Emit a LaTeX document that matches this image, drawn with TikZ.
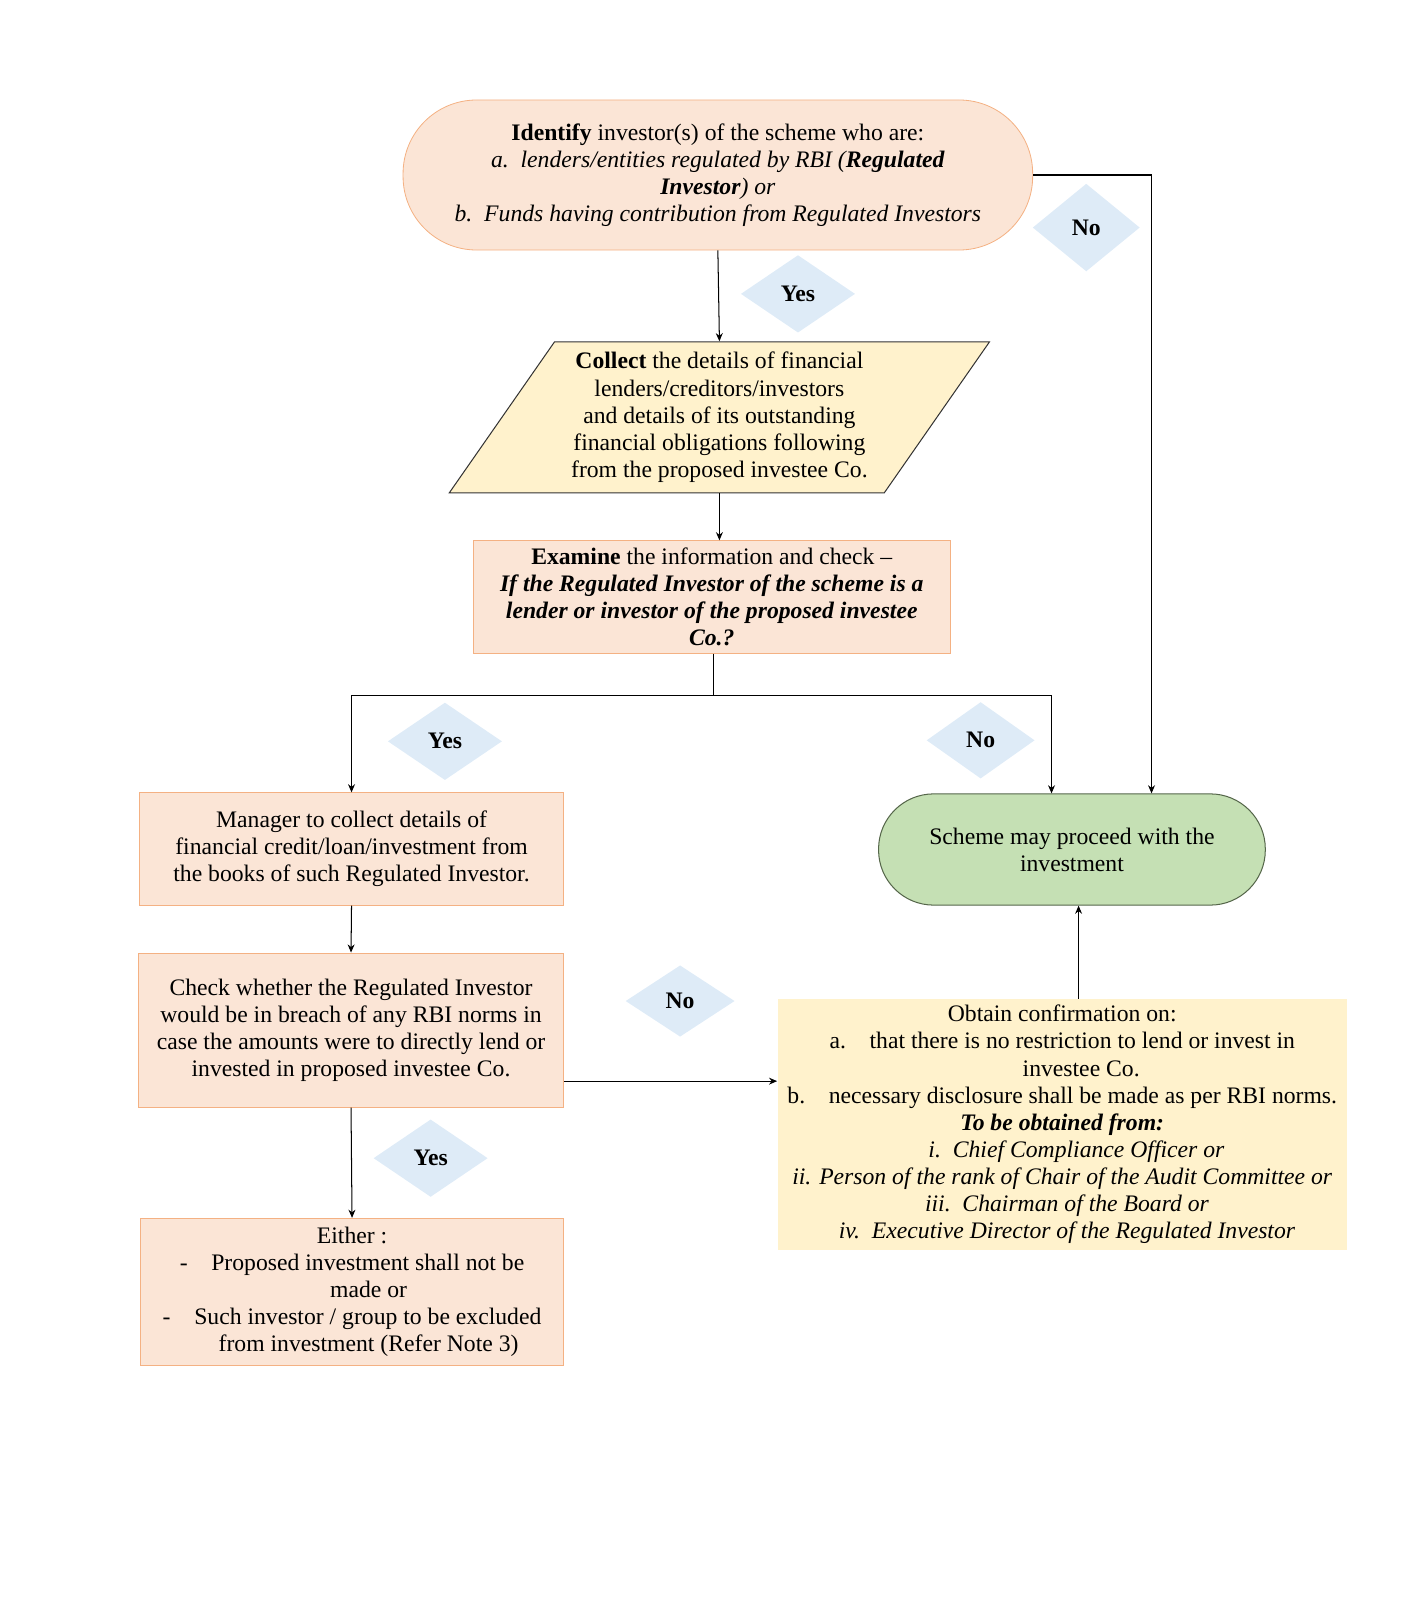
\documentclass[tikz,border=0pt]{standalone}
\usepackage{fontspec}
\setmainfont{Liberation Serif}
\usetikzlibrary{shapes.geometric,arrows.meta}

\definecolor{peach}{HTML}{FBE5D6}
\definecolor{peachline}{HTML}{F4B183}
\definecolor{cream}{HTML}{FFF2CC}
\definecolor{leaf}{HTML}{C5E0B4}
\definecolor{leafline}{HTML}{55664A}
\definecolor{sky}{HTML}{DEEBF7}

\begin{document}
\begin{tikzpicture}[x=0.5pt,y=-0.5pt,>={Stealth[length=4pt,width=3.4pt]},
  font=\fontsize{11.6}{13.3}\selectfont,
  every node/.style={align=center,inner sep=0pt},
  peachbox/.style={rectangle,draw=peachline,fill=peach,line width=0.5pt},
  creambox/.style={rectangle,fill=cream},
  terminal/.style={rectangle,rounded corners=#1},
  slantbox/.style={trapezium,trapezium left angle=54,trapezium right angle=126,
    trapezium stretches=true,draw=black!80,fill=cream,line width=0.5pt},
  answer/.style={diamond,fill=sky,minimum width=56pt,minimum height=38pt,font=\fontsize{11.6}{13.3}\selectfont\bfseries},
  link/.style={->,line width=0.5pt}]

\useasboundingbox (0,0) rectangle (1393.6,1568);

% Boxes
\node[terminal=36pt,draw=peachline,fill=peach,minimum width=308.5pt,minimum height=73.5pt] (ident) at (703.5,171.5)
  {\textbf{Identify} investor(s) of the scheme who are:\\
   \textit{a.\enspace lenders/entities regulated by RBI (\textbf{Regulated}}\\
   \textit{\textbf{Investor}) or}\\
   \textit{b.\enspace Funds having contribution from Regulated Investors}};

\node[slantbox,minimum width=265pt,minimum height=74pt] (collect) at (705,409)
  {\textbf{Collect} the details of financial\\
   lenders/creditors/investors\\
   and details of its outstanding\\
   financial obligations following\\
   from the proposed investee Co.};

\node[peachbox,minimum width=233.5pt,minimum height=55pt] (examine) at (697.5,585)
  {\textbf{Examine} the information and check --\\
   \textbf{\textit{If the Regulated Investor of the scheme is a}}\\
   \textbf{\textit{lender or investor of the proposed investee}}\\
   \textbf{\textit{Co.?}}};

\node[peachbox,minimum width=207.5pt,minimum height=55pt] (manager) at (344.5,832)
  {Manager to collect details of\\
   financial credit/loan/investment from\\
   the books of such Regulated Investor.};

\node[terminal=27pt,draw=leafline,fill=leaf,line width=0.5pt,minimum width=189.5pt,minimum height=54.5pt] (scheme) at (1050.5,832.5)
  {Scheme may proceed with the\\ investment};

\node[peachbox,minimum width=208pt,minimum height=75.5pt] (check) at (344,1009.5)
  {Check whether the Regulated Investor\\
   would be in breach of any RBI norms in\\
   case the amounts were to directly lend or\\
   invested in proposed investee Co.};

\node[creambox,minimum width=279pt,minimum height=123pt] (obtain) at (1041,1102)
  {Obtain confirmation on:\\
   a.\quad that there is no restriction to lend or invest in\\
   \hspace*{1.6em}investee Co.\\
   b.\quad necessary disclosure shall be made as per RBI norms.\\
   \textbf{\textit{To be obtained from:}}\\
   \hspace*{1.2em}\textit{i.\enspace Chief Compliance Officer or}\\
   \textit{ii. Person of the rank of Chair of the Audit Committee or}\\
   \hspace*{0.4em}\textit{iii.\enspace Chairman of the Board or}\\
   \hspace*{0.4em}\textit{iv.\enspace Executive Director of the Regulated Investor}};

\node[peachbox,minimum width=207pt,minimum height=72pt] (either) at (345,1266)
  {Either :\\
   -\quad Proposed investment shall not be\\
   \hspace*{1.4em}made or\\
   -\quad Such investor / group to be excluded\\
   \hspace*{1.4em}from investment (Refer Note 3)};

% Yes / No labels
\node[answer] (yesA) at (782,288) {Yes};
\node[answer,minimum width=52.5pt,minimum height=43pt] (noA) at (1064.5,223) {No};
\node[answer] (yesB) at (436,726.5) {Yes};
\node[answer,minimum width=53pt,minimum height=37.5pt] (noB) at (961,725.5) {No};
\node[answer,minimum width=53.5pt,minimum height=35pt] (noC) at (666.5,981) {No};
\node[answer] (yesC) at (422,1135) {Yes};

% Connectors
\draw[link] (ident.south) -- (collect.north);
\draw[link] (collect.south) -- (collect.south |- examine.north);
\draw[line width=0.5pt] ([xshift=0.75pt]examine.south) -- ++(0,41) coordinate (split);
\draw[link] (split) -| (manager.north);
\draw[link] (split) -| ([xshift=-10pt]scheme.north);
\draw[link] (ident.east) -| ([xshift=39pt]scheme.north);
\draw[link] (manager.south) -- (check.north);
\draw[link] ([yshift=-25pt]check.east) -- ([yshift=-25pt]check.east -| obtain.west);
\draw[link] ([xshift=8pt]obtain.north) -- ([xshift=8pt]obtain.north |- scheme.south);
\draw[link] (check.south) -- (either.north);

\end{tikzpicture}
\end{document}
